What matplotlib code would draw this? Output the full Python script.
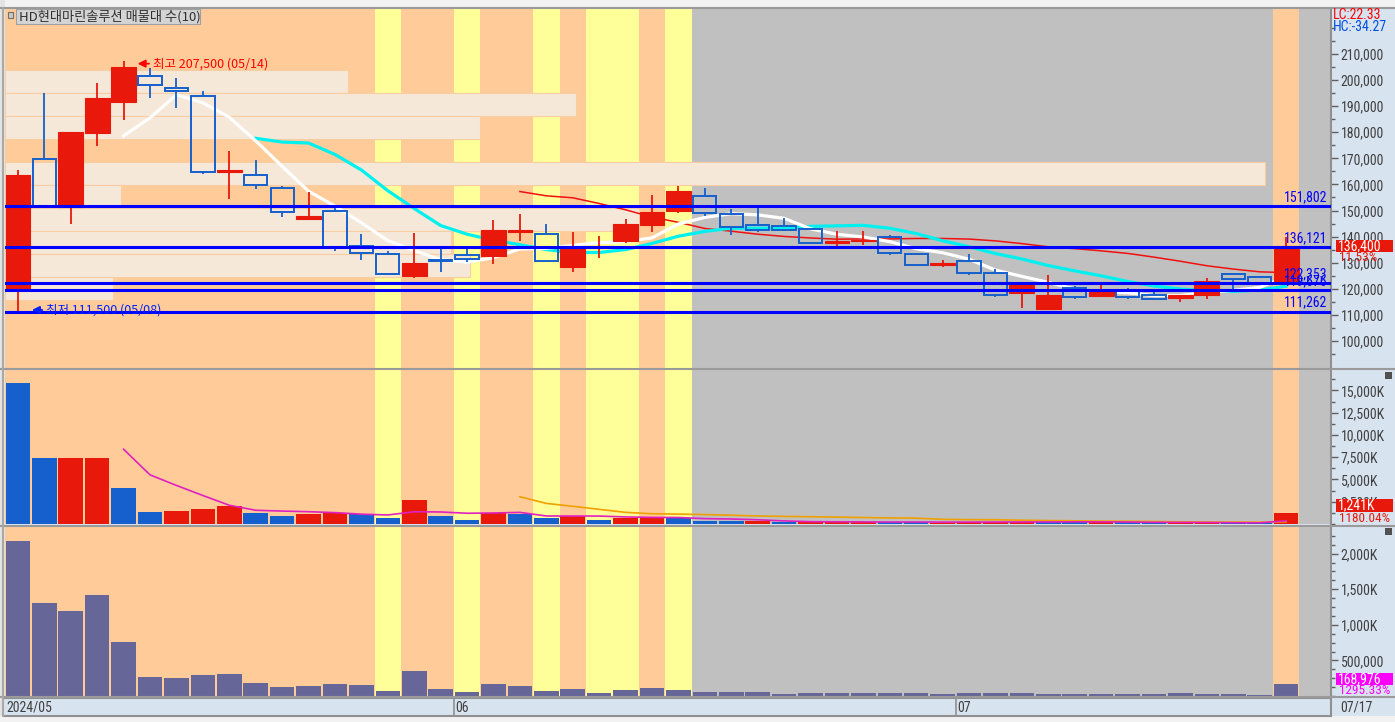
import matplotlib
matplotlib.use('Agg')
import matplotlib.pyplot as plt
import matplotlib.ticker as ticker
from matplotlib.patches import Rectangle
from matplotlib.lines import Line2D
from matplotlib import font_manager as fm
import pandas as pd

# ---------------- data ----------------
dates = ['05/08', '05/09', '05/10', '05/13', '05/14', '05/16', '05/17', '05/20', '05/21', '05/22',
         '05/23', '05/24', '05/27', '05/28', '05/29', '05/30', '05/31',
         '06/03', '06/04', '06/05', '06/07', '06/10', '06/11', '06/12', '06/13', '06/14', '06/17',
         '06/18', '06/19', '06/20', '06/21', '06/24', '06/25', '06/26', '06/27', '06/28',
         '07/01', '07/02', '07/03', '07/04', '07/05', '07/08', '07/09', '07/10', '07/11', '07/12',
         '07/15', '07/16', '07/17']

opens = [119500, 169600, 151500, 179900, 191700, 201400, 197000, 193800, 164900, 163500,
         158500, 146900, 149700, 136400, 133200, 125000, 131000,
         133000, 132600, 141900, 140900, 128500, 135800, 138500, 144600, 150000, 155400,
         148500, 144300, 143900, 142800, 137700, 138200, 139700, 133200, 129200,
         130500, 125900, 118500, 112400, 120400, 117400, 119300, 117500, 116600, 117800,
         125500, 124400, 122700]
highs = [165500, 195000, 180100, 198900, 207500, 204800, 200800, 195800, 172800, 169400,
         159500, 157200, 151900, 141000, 134500, 141300, 135500,
         136400, 146400, 148700, 144800, 141900, 140200, 146800, 156000, 159400, 158600,
         150600, 151100, 147100, 142800, 142200, 142200, 140600, 133300, 131000,
         133300, 127600, 121600, 125200, 121100, 122700, 120300, 118800, 117700, 124100,
         125600, 124800, 139800]
lows = [111500, 151500, 144800, 174900, 184800, 193300, 189400, 163900, 154400, 158400,
        147500, 146900, 134600, 131200, 125600, 124300, 126600,
        130400, 129500, 138500, 130800, 126600, 131900, 137400, 141900, 148900, 148000,
        140800, 141800, 142300, 137400, 136000, 136900, 133100, 128900, 128500,
        125400, 117000, 112800, 111800, 116100, 117400, 116200, 115700, 115100, 116200,
        119500, 122100, 122700]
closes = [163600, 151500, 180100, 193100, 205000, 198000, 195700, 164600, 165500, 159700,
          149300, 147800, 136200, 133600, 125600, 129800, 130500,
          131300, 142500, 142300, 130800, 136400, 136400, 144700, 149300, 157500, 148900,
          143600, 142400, 142700, 137400, 138400, 138400, 133600, 129000, 129800,
          125900, 117500, 121600, 117600, 117000, 119500, 116700, 116200, 117600, 123000,
          123600, 122300, 136400]

# volume (thousand shares) and colour flag (r = up vs previous day, b = down)
volume_k = [15790, 7360, 7380, 7470, 3990, 1400, 1420, 1740, 1970, 1180,
            955, 1070, 1220, 1100, 730, 2750, 955,
            500, 1250, 1070, 730, 920, 500, 730, 840, 650, 300,
            290, 300, 200, 220, 225, 230, 225, 220, 150,
            250, 260, 270, 220, 210, 230, 170, 130, 160, 165,
            110, 105, 1241]
volume_dir = ['b', 'b', 'r', 'r', 'b', 'b', 'r', 'r', 'r', 'b',
              'b', 'r', 'r', 'b', 'b', 'r', 'b',
              'b', 'r', 'b', 'b', 'r', 'b', 'r', 'r', 'b', 'b',
              'b', 'r', 'b', 'r', 'r', 'r', 'b', 'b', 'r',
              'r', 'r', 'r', 'b', 'b', 'r', 'b', 'b', 'r', 'r',
              'b', 'b', 'r']

# trading value panel (thousands)
value_k = [2177, 1302, 1190, 1415, 754, 262, 248, 290, 304, 177,
           121, 135, 163, 149, 65, 346, 93,
           51, 163, 135, 65, 93, 37, 79, 107, 79, 55,
           55, 55, 28, 40, 40, 40, 40, 40, 28,
           40, 40, 40, 28, 28, 28, 28, 28, 40, 28,
           28, 20, 169]

# background colour of each day column (O orange, Y yellow, G gray)
day_bg = 'OOOOOOOOOOOOOOYOOYOOYOYYOYGGGGGGGGGGGGGGGGGGGGGGO'

# 매물대 (volume at price) — 10 bands, top to bottom
profile_edges = [203870, 195060, 186250, 177440, 168630, 159820,
                 151010, 142200, 133390, 124580, 115770]
profile_vol = [13.0, 21.6, 18.0, 0.0, 47.7, 4.4, 24.0, 16.9, 17.6, 4.1]

# horizontal reference levels
levels = [151802, 136121, 122353, 119676, 111262]

# ---------------- style ----------------
W, H = 1395, 722
RED = '#E8190B'
BLUE = '#1560CC'
BG = {'O': '#FFCC99', 'Y': '#FFFF99', 'G': '#C0C0C0'}
AXBG = '#D8E3F0'
KR = ['Noto Sans CJK KR', 'DejaVu Sans']
names = {f.name for f in fm.fontManager.ttflist}
NARROW, NSZ = 'Liberation Sans', 9
for cand, sz in (('Liberation Sans Narrow', 10), ('DejaVu Sans Condensed', 9),
                 ('Roboto Condensed', 10)):
    if cand in names:
        NARROW, NSZ = cand, sz
        break

n = len(closes)
xs = list(range(n))
XL = (-0.49, 49.70)


def box(x0, y0, x1, y1):
    return [x0 / W, 1 - y1 / H, (x1 - x0) / W, (y1 - y0) / H]


def fx(px):
    return px / W


def fy(py):
    return 1 - py / H


fig = plt.figure(figsize=(W / 100, H / 100), dpi=100)
fig.patch.set_facecolor(AXBG)

ax_p = fig.add_axes(box(5, 8, 1331, 368))
ax_v = fig.add_axes(box(5, 370, 1331, 524))
ax_t = fig.add_axes(box(5, 527, 1331, 696))
ax_d = fig.add_axes(box(5, 698, 1331, 716))

for ax in (ax_p, ax_v, ax_t):
    ax.set_facecolor('#C0C0C0')
    for i, k in enumerate(day_bg):
        ax.axvspan(i - 0.5, i + 0.5, color=BG[k], lw=0, zorder=0)
    ax.set_xlim(*XL)
    ax.set_xticks([])
    for s in ('top', 'left', 'bottom'):
        ax.spines[s].set_visible(False)
    ax.spines['right'].set_color('#909090')
    ax.spines['right'].set_linewidth(1.5)
    ax.yaxis.tick_right()
    ax.tick_params(axis='y', which='major', direction='out', length=5, width=1,
                   color='#606060', labelcolor='#404040', pad=2, labelsize=NSZ)
    ax.tick_params(axis='y', which='minor', direction='out', length=3, width=1, color='#606060')

# ---------------- price panel ----------------
ax_p.set_ylim(89650, 227630)
x0 = XL[0]
full = 47.2 - x0
vmax = max(profile_vol)
for hi, lo, v in zip(profile_edges[:-1], profile_edges[1:], profile_vol):
    if v > 0:
        ax_p.add_patch(Rectangle((x0, lo), v / vmax * full, hi - lo, fc='#F5E8D8',
                                 ec='#F9CDA2', lw=0.8, zorder=1))

cs = pd.Series(closes)
ax_p.plot(xs, cs.rolling(20).mean(), color='#F01010', lw=1.1, zorder=3)
ax_p.plot(xs, cs.rolling(10).mean(), color='#00F0F0', lw=2.3, zorder=3)
ax_p.plot(xs, cs.rolling(5).mean(), color='#FFFFFF', lw=2.3, zorder=3)

bw = 0.94
for i in xs:
    o, h, l, c = opens[i], highs[i], lows[i], closes[i]
    if c >= o:
        ax_p.vlines(i, l, h, color=RED, lw=1.3, zorder=4)
        ax_p.add_patch(Rectangle((i - bw / 2, o), bw, max(c - o, 700), fc=RED, ec=RED,
                                 lw=0.8, zorder=4))
    else:
        ax_p.vlines(i, o, h, color=BLUE, lw=1.3, zorder=4)
        ax_p.vlines(i, l, c, color=BLUE, lw=1.3, zorder=4)
        ax_p.add_patch(Rectangle((i - bw / 2 + 0.03, c), bw - 0.06, max(o - c, 500), fc='none',
                                 ec=BLUE, lw=1.4, zorder=4))

for v in levels:
    ax_p.axhline(v, color='#0000FF', lw=2.2, zorder=5)
    ax_p.text(0.9975, v + 700, f'{v:,}', transform=ax_p.get_yaxis_transform(),
              ha='right', va='bottom', color='#0000FF', fontsize=NSZ, family=NARROW, zorder=6)

ax_p.annotate('최고 207,500 (05/14)', xy=(4.53, 206300), xytext=(5.12, 206300),
              ha='left', va='center', color='#FF0000', fontsize=9, family=KR, zorder=7,
              arrowprops=dict(arrowstyle='-|>', color='#FF0000', lw=1.3, mutation_scale=11,
                              shrinkA=1, shrinkB=0))
ax_p.annotate('최저 111,500 (05/08)', xy=(0.53, 111900), xytext=(1.08, 111900),
              ha='left', va='center', color='#0020FF', fontsize=9, family=KR, zorder=7,
              arrowprops=dict(arrowstyle='-|>', color='#0020FF', lw=1.3, mutation_scale=11,
                              shrinkA=1, shrinkB=0))

ax_p.yaxis.set_major_locator(ticker.FixedLocator(list(range(100000, 220000, 10000))))
ax_p.yaxis.set_minor_locator(ticker.FixedLocator(list(range(95000, 225000, 5000))))
ax_p.yaxis.set_major_formatter(ticker.FuncFormatter(lambda v, p: f'{int(v):,}'))

# ---------------- volume panel ----------------
ax_v.set_ylim(0, 17303)
vcol = [RED if d == 'r' else BLUE for d in volume_dir]
ax_v.bar(xs, volume_k, width=0.93, color=vcol, zorder=2)
vs = pd.Series(volume_k)
ax_v.plot(xs, vs.rolling(20).mean(), color='#F0A000', lw=1.2, zorder=3)
ax_v.plot(xs, vs.rolling(5).mean(), color='#E020C0', lw=1.2, zorder=3)
ax_v.yaxis.set_major_locator(ticker.FixedLocator([2500, 5000, 7500, 10000, 12500, 15000]))
ax_v.yaxis.set_minor_locator(ticker.MultipleLocator(1250))
ax_v.yaxis.set_major_formatter(ticker.FuncFormatter(lambda v, p: f'{int(v):,}K'))

# ---------------- trading value panel ----------------
ax_t.set_ylim(0, 2374)
ax_t.bar(xs, value_k, width=0.93, color='#666699', zorder=2)
ax_t.yaxis.set_major_locator(ticker.FixedLocator([500, 1000, 1500, 2000]))
ax_t.yaxis.set_minor_locator(ticker.MultipleLocator(125))
ax_t.yaxis.set_major_formatter(ticker.FuncFormatter(
    lambda v, p: '500,000' if int(v) == 500 else f'{int(v):,}K'))

for ax in (ax_p, ax_v, ax_t):
    for lab in ax.get_yticklabels():
        lab.set_fontfamily(NARROW)

# ---------------- date bar ----------------
ax_d.set_facecolor(AXBG)
ax_d.set_xlim(*XL)
ax_d.set_ylim(0, 1)
ax_d.set_xticks([])
ax_d.set_yticks([])
ax_d.spines['left'].set_visible(False)
for s in ('top', 'bottom', 'right'):
    ax_d.spines[s].set_color('#909090')
    ax_d.spines[s].set_linewidth(1.5)
month_starts = [0] + [i for i in range(1, n) if dates[i][:2] != dates[i - 1][:2]]
for i in month_starts:
    lab = '2024/' + dates[i][:2] if i == 0 else dates[i][:2]
    if i > 0:
        ax_d.axvline(i - 0.5, color='#909090', lw=1.2)
    ax_d.text(i - 0.44, 0.45, lab, ha='left', va='center', fontsize=NSZ, family=NARROW,
              color='#404040')
fig.text(fx(1340), fy(707), dates[-1], ha='left', va='center', fontsize=NSZ, family=NARROW,
         color='#404040')

# ---------------- frame pieces ----------------
fig.add_artist(Rectangle((0, fy(8)), 1, 8 / H, transform=fig.transFigure, fc='#F2F2F2',
                         ec='none', zorder=0))
fig.add_artist(Rectangle((0, 0), fx(5), 1, transform=fig.transFigure, fc='#E4E4E4',
                         ec='none', zorder=0))
fig.add_artist(Rectangle((0, 0), 1, 6 / H, transform=fig.transFigure, fc='#F2F2F2',
                         ec='none', zorder=0))
for py in (8, 369, 525.5, 697):
    fig.add_artist(Line2D([0, 1], [fy(py), fy(py)], transform=fig.transFigure,
                          color='#9A9A9A', lw=1.5))
fig.add_artist(Line2D([fx(2.5), fx(2.5)], [fy(716), fy(8)], transform=fig.transFigure,
                      color='#A8A8A8', lw=1.5))

# title box
fig.add_artist(Rectangle((fx(8), fy(18)), 5 / W, 6 / H, transform=fig.transFigure,
                         fc='#C8C8C8', ec='#707070', lw=0.8))
fig.add_artist(Rectangle((fx(16), fy(24)), 184 / W, 15 / H, transform=fig.transFigure,
                         fc='#D4D4D4', ec='#A0A0A0', lw=0.8))
fig.text(fx(19), fy(16.5), 'HD현대마린솔루션 매물대 수(10)', ha='left', va='center',
         fontsize=9.5, family=KR, color='#303030')

# close icons on sub panels
for py in (372, 528):
    fig.add_artist(Rectangle((fx(1385), fy(py + 7)), 7 / W, 7 / H, transform=fig.transFigure,
                             fc='#505050', ec='none'))

# right side badges
fig.text(fx(1333), fy(15), 'LC:22.33', ha='left', va='center', fontsize=NSZ, family=NARROW,
         color='#FF0000')
fig.text(fx(1333), fy(27), 'HC:-34.27', ha='left', va='center', fontsize=NSZ, family=NARROW,
         color='#0050E0')


def badge(py0, py1, txt, sub, col):
    fig.add_artist(Rectangle((fx(1336), fy(py1)), 57 / W, (py1 - py0) / H,
                             transform=fig.transFigure, fc=col, ec='none', zorder=5))
    fig.text(fx(1338), fy((py0 + py1) / 2), txt, ha='left', va='center', fontsize=NSZ,
             family=NARROW, color='white', zorder=6)
    fig.text(fx(1339), fy(py1 + 6), sub, ha='left', va='center', fontsize=NSZ - 0.5,
             family=NARROW, color=col, zorder=6)


badge(240, 252, f'{closes[-1]:,}', '11.53%', RED)
badge(499, 512, f'{volume_k[-1]:,}K', '1180.04%', RED)
badge(673, 685, '168,976', '1295.33%', '#FF00FF')

fig.savefig('out.png', dpi=100, facecolor=fig.get_facecolor())
